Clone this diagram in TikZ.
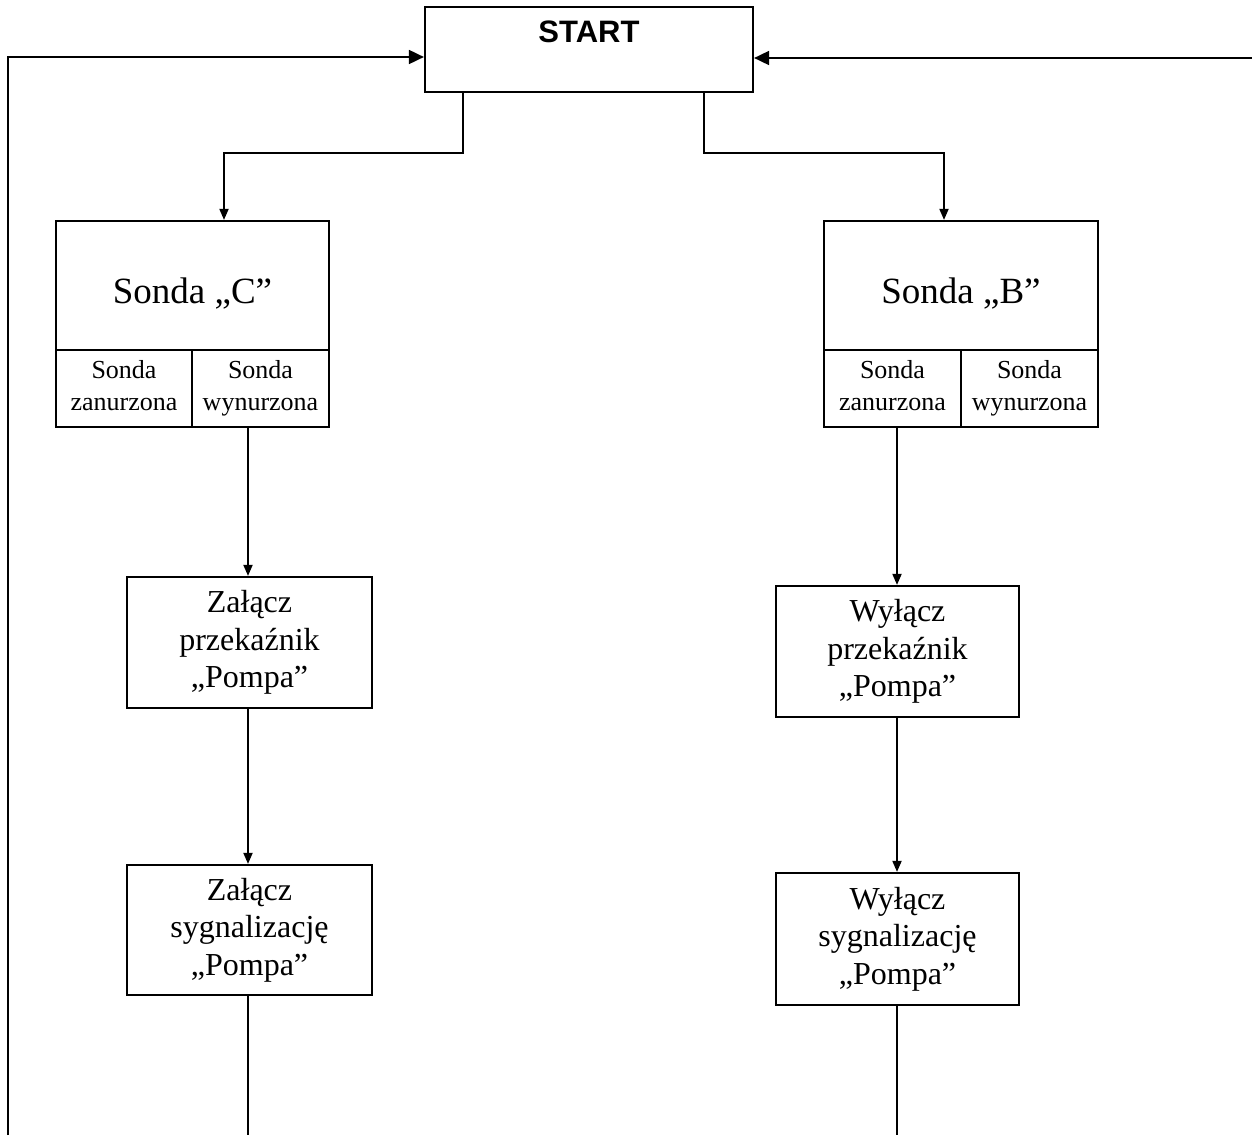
\documentclass[tikz,border=0pt]{standalone}
\usepackage{fontspec}
\setmainfont{Liberation Serif}
\newfontfamily\arialf{Liberation Sans}
\usetikzlibrary{arrows.meta}
\begin{document}
\begin{tikzpicture}[x=1pt,y=-1pt,
  box/.style={draw, line width=2.2pt, inner sep=0pt, align=center},
  bigtxt/.style={font=\fontsize{37}{44}\selectfont, text height=35pt, text depth=0pt},
  subtxt/.style={font=\fontsize{26}{32}\selectfont},
  boxtxt/.style={font=\fontsize{32}{37.7}\selectfont},
  conn/.style={line width=1.8pt},
  smallarr/.style={conn, -{Triangle[length=11pt,width=9pt]}},
  bigarr/.style={conn, -{Triangle[length=15pt,width=14pt]}}]
\useasboundingbox (0,0) rectangle (1252,1135);

% START
\node[box, minimum width=328, minimum height=85] (start) at (589,49.5) {};
\node[font=\arialf\bfseries\fontsize{31}{36}\selectfont, inner sep=0pt] (starttxt) at (589,32) {START};

% Sonda C
\node[box, bigtxt, minimum width=273, minimum height=129] (sondaC) at (192.5,285.5) {Sonda „C”};
\node[box, subtxt, minimum width=136, minimum height=77] (cZan) at (124,388.5) {Sonda\\zanurzona\vphantom{y}};
\node[box, subtxt, minimum width=137, minimum height=77] (cWyn) at (260.5,388.5) {Sonda\\wynurzona};

% Sonda B
\node[box, bigtxt, minimum width=274, minimum height=129] (sondaB) at (961,285.5) {Sonda „B”};
\node[box, subtxt, minimum width=137, minimum height=77] (bZan) at (892.5,388.5) {Sonda\\zanurzona\vphantom{y}};
\node[box, subtxt, minimum width=137, minimum height=77] (bWyn) at (1029.5,388.5) {Sonda\\wynurzona};

% Left column
\node[box, boxtxt, minimum width=245, minimum height=131] (zPrz) at (249.5,642.5) {Załącz\\przekaźnik\\„Pompa”};
\node[box, boxtxt, minimum width=245, minimum height=130] (zSyg) at (249.5,930) {Załącz\\sygnalizację\\„Pompa”};

% Right column
\node[box, boxtxt, minimum width=243, minimum height=131] (wPrz) at (897.5,651.5) {Wyłącz\\przekaźnik\\„Pompa”};
\node[box, boxtxt, minimum width=243, minimum height=132] (wSyg) at (897.5,939) {Wyłącz\\sygnalizację\\„Pompa”};

% helper coordinates
\coordinate (sL) at (463,153);
\coordinate (bendL) at (224,153);
\coordinate (sR) at (704,153);
\coordinate (bendR) at (944,153);
\coordinate (endL) at (248,1135);
\coordinate (endR) at (897,1135);
\coordinate (loopLb) at (8,1135);
\coordinate (loopL) at (8,57);
\coordinate (loopR) at (1252,58);

% connectors from START
\draw[smallarr] (sL |- start.south) -- (sL) -- (bendL) -- (bendL |- sondaC.north);
\draw[smallarr] (sR |- start.south) -- (sR) -- (bendR) -- (bendR |- sondaB.north);

% left chain
\draw[smallarr] (endL |- cWyn.south) -- (endL |- zPrz.north);
\draw[smallarr] (endL |- zPrz.south) -- (endL |- zSyg.north);
\draw[conn] (endL |- zSyg.south) -- (endL);

% right chain
\draw[smallarr] (endR |- bZan.south) -- (endR |- wPrz.north);
\draw[smallarr] (endR |- wPrz.south) -- (endR |- wSyg.north);
\draw[conn] (endR |- wSyg.south) -- (endR);

% loops back to START
\draw[bigarr] (loopLb) -- (loopL) -- (loopL -| start.west);
\draw[bigarr] (loopR) -- (loopR -| start.east);
\end{tikzpicture}
\end{document}
